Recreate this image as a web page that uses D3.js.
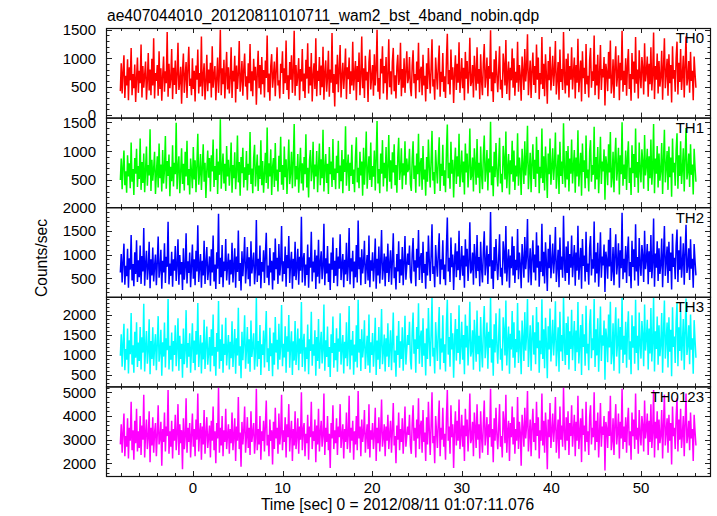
<!DOCTYPE html>
<html><head><meta charset="utf-8">
<script src="https://cdn.jsdelivr.net/npm/d3@7"></script>
<style>
body{margin:0;background:#fff}
svg{display:block}
text{font-family:"Liberation Sans",Arial,Helvetica,sans-serif;fill:#000}
</style>
</head><body>
<svg id="chart" width="717" height="516"></svg>
<script>
const title = "ae407044010_20120811010711_wam2_bst_4band_nobin.qdp";
const xLabel = "Time [sec] 0 = 2012/08/11 01:07:11.076";
const yLabel = "Counts/sec";
const bandNames = ["TH0", "TH1", "TH2", "TH3", "TH0123"];
const bandColors = ["#ff0000", "#00ff00", "#0000ff", "#00ffff", "#ff00ff"];
const binStart = -8.1;
const binWidth = 0.1005;

const th0 = [
420,910,380,760,1050,300,690,520,980,260,840,610,1180,350,720,470,890,230,650,1010,
390,780,560,1240,310,860,480,700,940,270,610,1090,430,800,350,990,520,1350,290,740,
600,880,340,1120,460,820,250,690,1030,410,770,560,1460,320,900,470,640,1160,280,830,
530,960,370,710,1270,440,590,850,200,760,1080,390,680,930,300,820,1200,510,640,350,
1000,460,780,240,870,620,1150,380,740,500,1380,330,690,910,270,580,1060,420,800,560,
920,310,1210,480,700,860,260,640,1010,390,760,1500,350,820,540,970,290,710,1110,450,
840,380,660,1190,300,780,590,1040,220,870,460,730,1300,410,620,950,340,800,1080,500,
680,270,910,560,1250,420,770,330,990,610,850,180,720,1130,470,880,360,1020,540,790,
310,960,650,1400,400,730,250,860,1070,480,690,940,330,780,1190,520,610,290,900,740,
1120,370,820,560,1310,440,700,280,930,620,1050,390,760,1480,340,880,510,690,1000,260,
810,590,1160,420,730,300,970,640,1260,380,850,520,1090,240,700,910,460,1350,330,780,
600,1020,350,870,490,1200,270,740,960,410,660,1130,320,800,570,1440,390,720,150,890,
540,1060,400,790,1230,310,680,920,460,750,1170,280,840,630,1010,370,770,520,1290,430,
710,950,260,860,580,1100,350,690,1380,470,820,300,1040,610,760,230,930,1150,450,680,
880,340,1070,520,790,1500,410,650,280,990,730,1210,380,860,560,1020,270,710,1330,490,
770,360,940,1180,420,700,290,850,1060,530,640,1270,330,810,480,1000,390,760,1120,560,
650,1020,480,330,870,1140,560,720,290,940,610,1270,400,780,850,350,1060,520,690,240,
910,460,1180,740,380,820,1330,500,630,270,1010,710,450,890,1220,320,760,580,1090,410,
680,300,970,1430,540,790,360,1150,620,840,210,730,1050,440,900,570,1280,390,660,1000,
470,830,260,1110,640,950,380,720,1360,510,590,880,310,1040,760,430,1190,550,810,280,
1070,600,350,920,1250,480,700,1010,330,860,640,1490,420,750,230,980,560,1130,690,400,
790,1210,450,620,300,1080,870,520,1320,370,710,940,260,830,610,1170,480,1000,340,760,
570,1290,410,880,690,250,1030,760,440,1160,590,820,1420,350,670,960,300,780,1100,530,
860,390,1240,620,1010,280,740,540,1370,460,900,330,1070,700,200,950,610,1200,430,720,
1040,510,780,1300,360,640,930,270,1150,580,810,440,1460,690,380,990,520,1080,310,860,
620,1190,450,740,1010,290,880,570,1340,400,700,960,240,1120,650,830,370,1250,540,690,
310,970,1180,480,770,600,1400,350,890,520,1060,280,730,1230,440,810,660,1020,170,900,
750,420,1110,640,1310,380,560,980,300,850,1210,500,700,1050,260,920,610,1480,410,780,
530,1000,340,870,1160,460,720,250,1090,630,940,390,1370,550,800,290,1140,680,470,1020,
820,360,1260,590,760,1030,320,900,540,1190,430,710,1450,280,860,620,1080,380,950,500,
680,1130,270,840,1350,470,730,990,340,1070,560,880,220,1210,640,790,410,1000,1290,360,
920,580,1160,440,710,1040,310,870,1380,520,660,950,390,1110,600,780,260,1030,730,480
];
const th1 = [
500,870,340,720,1010,410,650,280,930,560,790,360,1150,470,690,240,880,610,1040,380,
740,520,1220,330,810,450,960,290,680,1080,400,760,580,1380,310,850,490,700,990,260,
620,910,370,1130,530,770,300,1020,440,680,1260,350,830,570,940,220,730,480,1100,390,
800,600,1490,340,720,910,270,650,1050,430,780,320,990,560,1180,410,690,250,870,640,
360,1070,510,840,290,760,1300,420,620,950,330,710,1120,470,800,190,670,1010,540,880,
300,930,650,1200,380,740,500,1040,260,820,590,1550,350,700,960,440,780,310,1090,560,
850,400,690,1150,280,760,530,980,340,640,1270,460,810,230,900,620,1060,370,720,500,
1000,320,780,590,1330,430,700,270,880,1110,390,660,940,310,750,520,1190,410,830,280,
610,970,450,1410,350,790,560,1030,240,720,880,380,1140,490,680,300,920,640,1250,420,
760,330,1080,550,860,260,700,1200,430,620,990,360,810,1470,390,740,510,950,280,680,
1060,440,790,320,900,600,1290,370,710,200,840,1020,480,650,1160,340,770,560,1000,290,
730,1130,410,860,530,1370,300,690,950,450,780,260,1070,600,820,380,1210,500,700,340,
920,620,1180,350,750,480,1020,270,860,640,1430,400,720,940,310,800,570,1110,430,680,
290,890,1240,460,710,360,990,580,820,230,1060,420,770,1340,350,650,910,500,1150,380,
740,560,1010,320,880,1520,440,690,270,960,610,1190,390,800,530,1070,300,720,1280,470,
840,350,980,630,1120,410,760,280,900,1230,500,670,1050,340,790,580,1170,420,870,640,
690,1040,430,310,860,1170,520,750,280,960,600,1300,390,770,880,330,1090,510,680,230,
900,470,1200,730,370,830,1350,490,640,260,1020,700,440,870,1240,310,780,570,1110,400,
670,290,990,1460,530,800,350,1160,610,850,200,740,1060,430,910,560,1300,380,650,1010,
460,820,250,1130,630,960,370,710,1390,500,580,890,300,1050,750,420,1210,540,800,270,
1080,590,340,930,1270,470,690,1020,320,870,630,1510,410,740,220,990,550,1140,680,390,
780,1230,440,610,290,1090,860,510,1340,360,700,950,250,840,600,1180,470,1010,330,750,
560,1310,400,890,680,240,1040,750,430,1170,580,830,1440,340,660,970,290,790,1120,520,
850,380,1250,610,1020,270,730,530,1390,450,910,320,1080,690,190,960,600,1220,420,710,
1050,500,770,1320,350,630,940,260,1160,570,820,430,1480,680,370,1000,510,1090,300,870,
610,1200,440,730,1020,280,890,560,1360,390,690,970,230,1130,640,840,360,1270,530,680,
300,980,1190,470,760,590,1420,340,900,510,1070,270,720,1250,430,820,650,1030,160,910,
740,410,1120,630,1330,370,550,990,290,860,1230,490,690,1060,250,930,600,1500,400,770,
520,1010,330,880,1170,450,710,240,1100,620,950,380,1390,540,810,280,1150,670,460,1030,
810,350,1280,580,750,1040,310,910,530,1200,420,700,1470,270,870,610,1090,370,960,490,
670,1140,260,850,1370,460,720,1000,330,1080,550,890,210,1220,630,800,400,1010,1310,350,
930,570,1170,430,700,1050,300,880,1400,510,650,960,380,1120,590,770,250,1040,720,470
];
const th2 = [
620,1010,410,850,1230,360,760,540,1120,300,920,680,1410,450,800,330,1050,590,1300,420,
880,520,1190,380,970,640,1560,340,790,1080,470,710,1270,290,900,560,1150,430,760,1000,
350,830,1380,510,690,1100,280,870,620,1240,400,950,740,1690,370,810,550,1060,320,900,
660,1180,440,780,1320,360,990,580,840,250,1130,470,720,1450,390,860,610,1040,310,770,
1210,490,900,350,1080,640,1620,420,750,1010,300,870,560,1290,380,820,1160,460,690,960,
340,1110,620,1400,430,790,270,1050,700,1860,380,930,520,1200,310,850,650,1330,450,760,
1020,360,890,580,1250,410,740,1130,300,960,630,1510,440,820,240,1070,540,880,1370,390,
730,1160,480,940,330,1280,600,810,1040,370,700,1730,420,910,560,1190,290,840,640,1090,
400,980,1460,510,770,350,1140,620,870,260,1050,450,1340,690,930,380,1220,560,800,1600,
430,860,590,1170,320,990,710,1390,400,820,1060,280,910,540,1270,460,750,1120,360,950,
660,1800,410,880,1030,340,790,570,1210,300,940,720,1480,430,850,620,1100,270,980,530,
1310,390,830,1070,480,740,1650,350,920,600,1180,420,810,250,1040,680,1360,400,870,550,
1140,330,960,700,1430,460,780,1010,310,890,580,1250,440,750,1560,370,920,640,1080,290,
850,520,1200,410,1720,690,940,350,1110,600,820,1290,380,730,990,450,1400,310,880,660,
1050,430,770,1340,280,910,560,1170,390,840,1520,470,700,1020,330,960,610,1230,420,800,
1090,360,870,1450,500,730,260,1010,640,1280,400,900,560,1160,350,820,1390,470,760,1020,
780,1190,520,390,1010,1350,640,880,330,1120,720,1520,460,910,1030,400,1270,610,800,280,
1060,560,1400,860,440,970,1640,590,750,310,1200,830,530,1040,1450,370,900,680,1300,480,
790,350,1150,1780,640,930,420,1360,730,1000,250,860,1240,520,1070,670,1500,460,770,1180,
550,980,300,1320,750,1120,440,840,1680,600,690,1040,360,1220,890,500,1410,650,950,330,
1270,700,410,1080,1490,560,820,1190,380,1010,750,1900,490,880,270,1160,650,1330,800,460,
920,1430,530,720,350,1280,1020,600,1600,430,830,1110,300,980,710,1380,560,1180,400,890,
670,1540,480,1040,800,290,1220,890,510,1370,690,970,1750,410,780,1130,350,920,1300,620,
1000,450,1470,720,1190,320,860,630,1650,540,1060,390,1260,820,230,1120,710,1420,500,840,
1230,600,910,1580,420,750,1100,310,1360,680,960,510,1820,800,440,1170,610,1280,360,1010,
720,1400,520,860,1200,340,1040,660,1610,470,820,1140,280,1330,760,980,430,1480,630,810,
360,1150,1390,560,900,700,1700,410,1050,600,1250,320,850,1470,510,960,770,1210,210,1060,
880,490,1310,750,1560,440,660,1160,350,1000,1430,580,820,1240,300,1090,710,1880,480,910,
620,1180,400,1030,1380,540,840,290,1290,740,1110,450,1640,640,950,340,1350,790,550,1200,
960,420,1500,690,890,1220,370,1070,630,1410,500,830,1760,320,1020,720,1280,440,1130,590,
790,1340,310,990,1600,550,860,1170,400,1270,650,1040,260,1440,740,930,480,1190,1530,420,
1090,680,1380,510,830,1240,360,1030,1630,610,770,1130,460,1320,700,910,300,1220,860,560
];
const th3 = [
980,1520,710,1290,1780,620,1150,880,1660,540,1370,1020,2050,760,1240,560,1580,930,1820,700,
1310,850,1700,640,1440,1060,2280,590,1190,1600,780,1100,1890,520,1350,900,1690,730,1210,1520,
620,1260,1970,830,1080,1630,480,1320,960,1810,690,1420,1120,2400,640,1230,880,1560,590,1350,
1000,1740,720,1190,1920,610,1480,900,1280,430,1660,770,1100,2120,680,1300,960,1540,560,1170,
1790,800,1360,620,1600,1010,2300,700,1140,1500,540,1310,890,1880,650,1240,1710,760,1070,1450,
590,1640,980,2010,720,1200,480,1550,1080,2350,660,1390,850,1760,560,1280,1000,1930,740,1160,
1500,640,1330,920,1840,700,1130,1650,530,1420,990,2180,730,1220,420,1580,870,1310,1990,660,
1110,1700,780,1390,580,1860,950,1230,1540,630,1060,2440,710,1350,900,1750,500,1270,1000,1610,
690,1450,2100,820,1170,600,1680,970,1290,470,1560,760,1950,1060,1380,640,1780,880,1200,2250,
720,1280,940,1720,560,1470,1080,2000,680,1230,1590,500,1340,860,1850,750,1140,1660,620,1410,
1030,2320,700,1300,1530,590,1190,900,1760,520,1390,1100,2080,730,1270,980,1620,480,1450,850,
1900,660,1240,1580,790,1120,2260,610,1370,950,1710,700,1200,450,1520,1050,1960,680,1300,870,
1670,580,1410,1080,2040,760,1180,1500,540,1330,920,1820,720,1150,2220,640,1380,990,1600,510,
1260,830,1740,690,2380,1060,1400,600,1640,940,1220,1870,650,1110,1480,740,2010,560,1320,1000,
1550,710,1160,1930,500,1360,880,1700,650,1250,2150,770,1080,1510,590,1420,960,1790,700,1190,
1620,620,1300,2060,810,1110,460,1480,1000,1850,680,1340,900,1690,610,1230,1980,760,1140,1500,
1250,1830,880,640,1580,2060,1030,1390,560,1700,1150,2290,780,1420,1610,700,1920,980,1290,490,
1660,900,2170,1350,720,1520,2420,960,1180,540,1820,1310,850,1600,2200,640,1410,1060,1990,800,
1270,590,1760,2380,1010,1450,710,2050,1140,1540,430,1340,1900,860,1650,1050,2240,770,1230,1830,
880,1500,520,2010,1190,1730,740,1340,2330,960,1100,1620,630,1880,1400,830,2110,1020,1480,590,
1950,1130,690,1670,2220,920,1290,1810,660,1580,1180,2450,810,1390,480,1770,1060,2040,1260,780,
1440,2160,880,1160,610,1940,1600,990,2360,740,1310,1710,530,1530,1140,2100,930,1820,680,1400,
1070,2300,800,1610,1280,520,1860,1400,850,2070,1110,1500,2400,700,1240,1740,610,1440,1990,1010,
1570,770,2200,1170,1820,560,1360,1020,2390,900,1640,670,1930,1300,420,1720,1140,2160,840,1330,
1880,990,1440,2340,720,1190,1690,580,2080,1090,1500,850,2460,1270,750,1800,1000,1960,640,1590,
1150,2130,870,1360,1850,600,1610,1070,2320,790,1290,1750,500,2020,1200,1520,730,2230,1040,1280,
620,1780,2140,920,1420,1120,2400,700,1640,990,1920,580,1350,2210,850,1490,1230,1860,380,1660,
1380,820,2010,1190,2330,770,1060,1790,610,1570,2190,960,1300,1910,540,1700,1130,2450,800,1480,
1010,1830,680,1600,2090,880,1340,520,1990,1180,1720,780,2380,1050,1480,620,2060,1260,910,1850,
1500,720,2260,1110,1410,1880,640,1660,1040,2170,840,1320,2440,590,1590,1150,1960,760,1740,970,
1270,2050,560,1550,2360,910,1360,1810,690,1940,1080,1630,470,2190,1200,1460,800,1830,2300,720,
1690,1100,2100,860,1320,1900,630,1610,2410,1000,1250,1740,770,2010,1130,1420,530,1870,1370,930
];
const th0123 = [
2800,3650,2450,3300,4100,2300,3150,2700,3900,2200,3500,2950,4600,2550,3400,2150,3800,2850,4300,2500,
3350,2650,4000,2350,3600,3000,4900,2250,3250,3850,2600,3100,4200,2050,3500,2750,3950,2450,3300,3700,
2300,3200,4450,2800,3050,3750,1900,3450,2900,4150,2500,3550,3150,5100,2400,3350,2700,3800,2200,3450,
2950,4050,2550,3250,4500,2350,3650,2850,3400,1750,3900,2600,3100,4750,2450,3500,2900,3700,2250,3200,
4100,2700,3450,2300,3850,3000,4950,2500,3300,3700,2150,3550,2800,4250,2400,3250,3950,2650,3100,3600,
2250,3800,2950,4400,2550,3350,2000,3700,3050,5200,2450,3500,2750,4000,2300,3400,2900,4300,2600,3200,
3650,2400,3450,2850,4150,2550,3150,3900,2100,3550,2950,4800,2600,3300,1850,3750,2800,3400,4400,2450,
3100,3950,2650,3500,2350,4200,2900,3300,3700,2400,3050,5150,2550,3450,2800,4000,2150,3350,2950,3800,
2500,3600,4650,2750,3200,2300,3850,2950,3400,1950,3750,2600,4350,3050,3500,2400,4100,2800,3250,4900,
2550,3400,2900,3950,2250,3650,3100,4500,2500,3300,3800,2100,3450,2750,4200,2600,3150,3900,2400,3550,
3000,5000,2550,3400,3700,2300,3250,2850,4050,2150,3550,3100,4600,2600,3350,2950,3850,2050,3600,2800,
4300,2500,3300,3800,2700,3150,4950,2350,3500,2900,4000,2550,3250,1800,3700,3050,4450,2600,3400,2850,
3900,2350,3550,3100,4500,2650,3200,3650,2200,3450,2900,4150,2600,3150,4850,2450,3500,2950,3800,2150,
3350,2800,4000,2550,5050,3050,3550,2300,3850,2900,3300,4250,2450,3150,3650,2600,4500,2250,3400,3000,
3700,2600,3200,4350,2100,3500,2850,3950,2500,3300,4700,2700,3100,3650,2300,3550,2950,4050,2600,3250,
3800,2450,3400,4550,2750,3150,2000,3600,3000,4150,2550,3450,2900,3900,2400,3300,4400,2700,3150,3550,
3200,4050,2750,2400,3700,4450,2950,3500,2250,3850,3050,4750,2600,3550,3800,2450,4250,2900,3300,2100,
3950,2800,4600,3400,2350,3600,5000,2850,3150,2000,4000,3350,2650,3750,4650,2300,3500,3000,4350,2700,
3250,2150,3900,5100,2950,3550,2400,4450,3100,3650,1800,3400,4200,2750,3800,2950,4700,2600,3200,4050,
2700,3600,2100,4300,3150,3850,2500,3350,4950,2850,3050,3750,2300,4150,3500,2650,4500,3000,3650,2200,
4200,3100,2450,3700,4650,2750,3300,3950,2350,3650,3100,5150,2700,3450,2050,3900,2950,4350,3250,2600,
3500,4500,2700,3150,2250,4200,3700,2850,4900,2450,3350,3800,2100,3700,3100,4400,2800,3950,2400,3450,
2950,4800,2600,3750,3300,1900,4050,3450,2700,4350,3050,3600,5050,2500,3200,3850,2300,3500,4300,2900,
3700,2550,4600,3150,3950,2200,3400,2950,4950,2750,3800,2450,4150,3350,1750,3850,3100,4550,2650,3350,
4100,2900,3500,4800,2450,3200,3850,2200,4400,3000,3600,2700,5200,3300,2550,3950,2950,4200,2350,3700,
3150,4450,2700,3400,4050,2300,3750,2950,4850,2600,3300,3900,2050,4300,3200,3600,2500,4600,2900,3350,
2350,3950,4450,2800,3500,3100,5000,2550,3800,2900,4150,2250,3300,4550,2700,3550,3200,4000,1700,3750,
3450,2650,4200,3150,4850,2550,2950,3900,2350,3650,4500,2800,3300,4100,2200,3750,3050,5150,2600,3550,
2900,3950,2450,3700,4350,2750,3350,2150,4150,3150,3850,2600,4950,3000,3500,2400,4250,3250,2750,4000,
3600,2500,4650,3050,3450,4100,2350,3800,2900,4500,2650,3300,5100,2250,3750,3050,4200,2550,3850,2850,
3200,4250,2200,3650,4900,2750,3350,3900,2450,4050,2950,3700,1950,4400,3150,3500,2600,3950,4750,2500,
3850,3000,4300,2650,3250,4000,2300,3700,4950,2850,3200,3800,2550,4150,3050,3450,2100,4050,3350,2750
];
const seriesValues = [th0, th1, th2, th3, th0123];

const xDomain = [-9.7, 57.8];
const xTicks = [0, 10, 20, 30, 40, 50];
const xMinorStep = 2;
const yDomains = [[-45, 1530], [30, 1580], [107, 2000], [216, 2453], [1463, 5250]];
const yTicks = [[0, 500, 1000, 1500], [500, 1000, 1500], [500, 1000, 1500, 2000], [500, 1000, 1500, 2000], [2000, 3000, 4000, 5000]];
const yMinorSteps = [100, 100, 100, 100, 200];

// ---- layout ----
const L = 106, R = 711, T = 28, B = 476;
const nP = 5, pH = (B - T) / nP;
const svg = d3.select("#chart");
const x = d3.scaleLinear().domain(xDomain).range([L, R]);
const tickColor = "#222";

svg.append("text").attr("x", 107).attr("y", 20.5).attr("font-size", 15.6).text(title);

const xMinor = d3.range(-8, 58, xMinorStep);

seriesValues.forEach((vals, p) => {
  const top = T + p * pH, bot = top + pH;
  const y = d3.scaleLinear().domain(yDomains[p]).range([bot, top]);
  const g = svg.append("g");
  const cid = "clip" + p;
  svg.append("clipPath").attr("id", cid).append("rect")
    .attr("x", L).attr("y", top).attr("width", R - L).attr("height", pH);

  const line = d3.line()
    .x((d, i) => x(binStart + i * binWidth))
    .y(d => y(d))
    .curve(d3.curveLinear);
  g.append("path").datum(vals)
    .attr("clip-path", `url(#${cid})`)
    .attr("fill", "none")
    .attr("stroke", bandColors[p])
    .attr("stroke-width", 1.5)
    .attr("d", line);

  // x ticks top and bottom (inward)
  const tg = svg.append("g").attr("stroke", tickColor).attr("stroke-width", 1);
  xMinor.forEach(t => {
    const major = xTicks.includes(t);
    const len = major ? 5 : 3;
    const xx = Math.round(x(t)) + 0.5;
    tg.append("line").attr("x1", xx).attr("x2", xx).attr("y1", bot).attr("y2", bot - len);
    tg.append("line").attr("x1", xx).attr("x2", xx).attr("y1", top).attr("y2", top + len);
  });
  // y ticks left and right (inward)
  const dom = yDomains[p];
  const ms = yMinorSteps[p];
  const minor = d3.range(Math.ceil(dom[0] / ms) * ms, dom[1], ms);
  minor.forEach(v => {
    const major = yTicks[p].includes(v);
    const len = major ? 6 : 3.5;
    const yy = Math.round(y(v)) + 0.5;
    tg.append("line").attr("x1", L).attr("x2", L + len).attr("y1", yy).attr("y2", yy);
    tg.append("line").attr("x1", R).attr("x2", R - len).attr("y1", yy).attr("y2", yy);
  });
  yTicks[p].forEach(v => {
    svg.append("text").attr("x", 96).attr("y", y(v)).attr("dy", "0.36em")
      .attr("text-anchor", "end").attr("font-size", 15).text(v);
  });

  svg.append("rect").attr("x", L + 0.5).attr("y", top + 0.5)
    .attr("width", R - L - 1).attr("height", pH)
    .attr("fill", "none").attr("stroke", "#111").attr("stroke-width", 1.2);

  svg.append("text").attr("x", 704).attr("y", top + 15.3)
    .attr("text-anchor", "end").attr("font-size", 15).text(bandNames[p]);
});

// bottom x tick labels
xTicks.forEach(t => {
  svg.append("text").attr("x", x(t)).attr("y", 492.5)
    .attr("text-anchor", "middle").attr("font-size", 15).text(t);
});

svg.append("text").attr("x", 397.5).attr("y", 510).attr("text-anchor", "middle")
  .attr("font-size", 15.6).text(xLabel);

svg.append("text").attr("transform", "translate(46.5,258) rotate(-90)")
  .attr("text-anchor", "middle").attr("font-size", 15.6).text(yLabel);
</script>
</body></html>
